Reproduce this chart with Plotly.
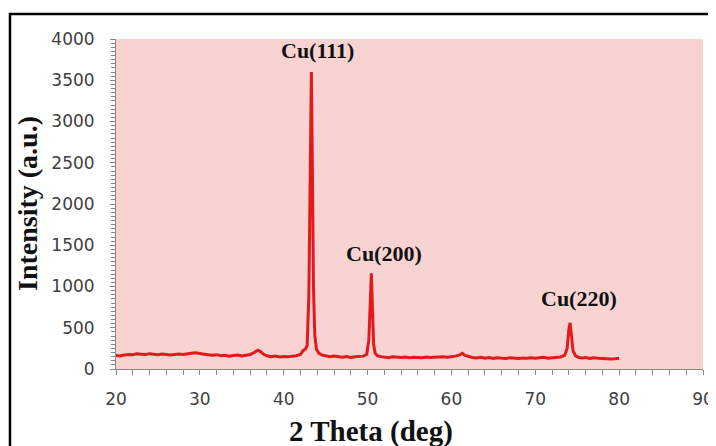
import plotly.graph_objects as go

two_theta = [20.0, 20.5, 21.0, 21.5, 22.0, 22.5, 23.0, 23.5, 24.0, 24.5, 25.0, 25.5, 26.0, 26.5,
             27.0, 27.5, 28.0, 28.5, 29.0, 29.5, 30.0, 30.5, 31.0, 31.5, 32.0, 32.5, 33.0, 33.5,
             34.0, 34.5, 35.0, 35.5, 36.0, 36.5, 36.9, 37.2, 37.6, 38.0, 38.5, 39.0, 39.5, 40.0,
             40.5, 41.0, 41.5, 42.0, 42.3, 42.6, 42.8, 43.0, 43.15, 43.3, 43.42, 43.55, 43.7, 43.9,
             44.2, 44.6, 45.0, 45.5, 46.0, 46.5, 47.0, 47.5, 48.0, 48.5, 49.0, 49.5, 49.9, 50.15,
             50.32, 50.45, 50.58, 50.72, 50.9, 51.2, 51.6, 52.0, 52.5, 53.0, 53.5, 54.0, 54.5, 55.0,
             55.5, 56.0, 56.5, 57.0, 57.5, 58.0, 58.5, 59.0, 59.5, 60.0, 60.5, 61.0, 61.3, 61.6,
             62.0, 62.5, 63.0, 63.5, 64.0, 64.5, 65.0, 65.5, 66.0, 66.5, 67.0, 67.5, 68.0, 68.5,
             69.0, 69.5, 70.0, 70.5, 71.0, 71.5, 72.0, 72.5, 73.0, 73.5, 73.8, 74.0, 74.15, 74.3,
             74.5, 74.8, 75.2, 75.6, 76.0, 76.5, 77.0, 77.5, 78.0, 78.5, 79.0, 79.5, 80.0]

intensity = [165, 158, 170, 176, 172, 185, 180, 176, 186, 178, 174, 183, 177, 170,
             176, 182, 175, 186, 190, 196, 184, 180, 172, 168, 174, 160, 166, 156,
             163, 170, 158, 166, 176, 200, 228, 214, 178, 160, 148, 156, 146, 152,
             149, 156, 160, 175, 222, 242, 290, 900, 2200, 3600, 2400, 1000, 420, 240,
             190, 168, 160, 148, 156, 146, 144, 152, 140, 149, 150, 156, 176, 350,
             800, 1160, 750, 300, 190, 160, 150, 144, 138, 149, 141, 139, 146, 136,
             143, 139, 137, 146, 139, 142, 146, 149, 144, 150, 156, 172, 190, 164,
             150, 139, 134, 141, 131, 138, 129, 136, 131, 127, 136, 129, 127, 133,
             129, 136, 130, 135, 141, 131, 138, 140, 146, 165, 250, 480, 560, 420,
             220, 160, 140, 134, 139, 129, 136, 131, 127, 131, 121, 125, 131]

peak_labels = ["Cu(111)", "Cu(200)", "Cu(220)"]
peak_label_x = [44.0, 51.9, 75.2]
peak_label_y = [3860, 1400, 855]

x_ticks = [20, 30, 40, 50, 60, 70, 80, 90]
y_ticks = [0, 500, 1000, 1500, 2000, 2500, 3000, 3500, 4000]

fig = go.Figure()
fig.add_trace(go.Scatter(x=two_theta, y=intensity, mode="lines",
                         line=dict(color="#E3191E", width=3), showlegend=False))

for t, xx, yy in zip(peak_labels, peak_label_x, peak_label_y):
    fig.add_annotation(x=xx, y=yy, text=t, showarrow=False,
                       font=dict(family="Liberation Serif", size=22, color="#111111"))

tickfont = dict(family="DejaVu Sans", size=17, color="#404040")
fig.update_xaxes(range=[20, 90], tickvals=x_ticks, ticks="outside", ticklen=5,
                 tickcolor="#888888", showline=True, linecolor="#888888", linewidth=1,
                 showgrid=False, zeroline=False, tickfont=tickfont, ticklabelstandoff=10,
                 automargin=False,
                 minor=dict(dtick=2, ticks="outside", ticklen=5, tickcolor="#888888"))
fig.update_yaxes(range=[0, 4000], tickvals=y_ticks, ticks="outside", ticklen=5,
                 tickcolor="#888888", showline=True, linecolor="#888888", linewidth=1,
                 showgrid=False, zeroline=False, tickfont=tickfont, ticklabelstandoff=12,
                 automargin=False,
                 minor=dict(dtick=50, ticks="outside", ticklen=4, tickcolor="#888888"))

fig.add_annotation(xref="paper", yref="paper", x=0.4344, y=-0.19, text="<b>2 Theta (deg)</b>",
                   showarrow=False, xanchor="center", yanchor="middle",
                   font=dict(family="Liberation Serif", size=29, color="#111111"))
fig.add_annotation(xref="paper", yref="paper", x=-0.1516, y=0.5, text="<b>Intensity (a.u.)</b>",
                   showarrow=False, xanchor="center", yanchor="middle", textangle=-90,
                   font=dict(family="Liberation Serif", size=28, color="#111111"))

# outer frame
fig.add_shape(type="rect", xref="paper", yref="paper", x0=-0.1806, x1=1.05, y0=-0.5, y1=1.0758,
              line=dict(color="#000000", width=2.5), fillcolor="rgba(0,0,0,0)", layer="below")

fig.update_annotations(font_weight="bold")
fig.update_layout(width=708, height=438, margin=dict(l=108, r=13, t=31, b=77, autoexpand=False),
                  plot_bgcolor="#F8D3D1", paper_bgcolor="#FFFFFF")

fig.write_html("out.html")
